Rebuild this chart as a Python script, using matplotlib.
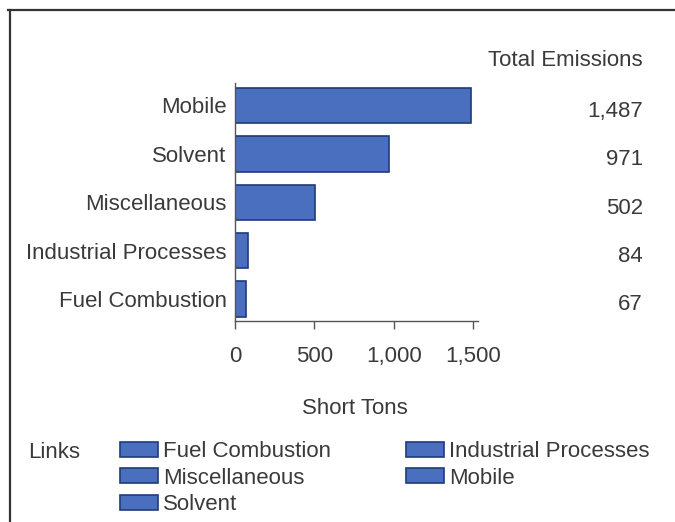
import matplotlib
matplotlib.use("Agg")
import matplotlib.pyplot as plt
from matplotlib.patches import Patch
from matplotlib.lines import Line2D
from matplotlib.transforms import blended_transform_factory, ScaledTranslation

categories = ["Fuel Combustion", "Industrial Processes", "Miscellaneous", "Solvent", "Mobile"]
values = [67, 84, 502, 971, 1487]
value_labels = ["67", "84", "502", "971", "1,487"]
xticks = [0, 500, 1000, 1500]
xtick_labels = ["0", "500", "1,000", "1,500"]
legend_order = ["Fuel Combustion", "Miscellaneous", "Solvent", "Industrial Processes", "Mobile"]

plt.rcParams['font.family'] = ['Liberation Sans', 'DejaVu Sans']
TXT = "#3a3a3a"
FS = 16
BAR = "#4a6fbf"
EDGE = "#1f3b7c"

fig = plt.figure(figsize=(6.75, 5.22), dpi=100)
W, H = 675, 522

# frame lines (top and left)
fig.add_artist(Line2D([8 / W, 1.0], [1 - 10 / H, 1 - 10 / H], transform=fig.transFigure, color="#333333", lw=1.6))
fig.add_artist(Line2D([10 / W, 10 / W], [0, 1 - 10 / H], transform=fig.transFigure, color="#333333", lw=1.6))

ax = fig.add_axes([235 / W, 1 - 321 / H, 243 / W, (321 - 83) / H])
y = list(range(len(categories)))
ax.barh(y, values, height=0.73, color=BAR, edgecolor=EDGE, linewidth=1.2)
ax.set_xlim(0, 1530)
ax.set_ylim(-0.455, len(categories) - 1 + 0.465)
ax.set_yticks(y)
ax.set_yticklabels(categories, fontsize=FS, color=TXT)
ax.set_xticks(xticks)
ax.set_xticklabels(xtick_labels, fontsize=FS, color=TXT)
ax.tick_params(axis='y', length=0, pad=6)
ax.tick_params(axis='x', length=6, width=1, color="#555555", pad=12, direction='out')
for s in ["top", "right"]:
    ax.spines[s].set_visible(False)
for s in ["left", "bottom"]:
    ax.spines[s].set_color("#555555")
    ax.spines[s].set_linewidth(1.0)

fig.text(355 / W, 1 - 408 / H, "Short Tons", ha="center", va="center", fontsize=FS, color=TXT)

# totals column
tr = blended_transform_factory(fig.transFigure, ax.transData) + ScaledTranslation(0, -6 / 100, fig.dpi_scale_trans)
for yi, lab in zip(y, value_labels):
    ax.text(643 / W, yi, lab, transform=tr, ha="right", va="center", fontsize=FS, color=TXT)
fig.text(643 / W, 1 - 60 / H, "Total Emissions", ha="right", va="center", fontsize=FS, color=TXT)

# legend
fig.text(28 / W, 1 - 452 / H, "Links", ha="left", va="center", fontsize=FS, color=TXT)
handles = [Patch(facecolor=BAR, edgecolor=EDGE, linewidth=1.2, label=c) for c in legend_order]
leg = fig.legend(handles=handles, ncol=2, loc="upper left", bbox_to_anchor=(120 / W, 1 - 441 / H),
                 frameon=False, fontsize=FS, labelcolor=TXT, handlelength=1.71, handleheight=0.68,
                 handletextpad=0.22, columnspacing=3.4, labelspacing=0.25, borderaxespad=0, borderpad=0)

fig.savefig("out.png", dpi=100, facecolor="white")
